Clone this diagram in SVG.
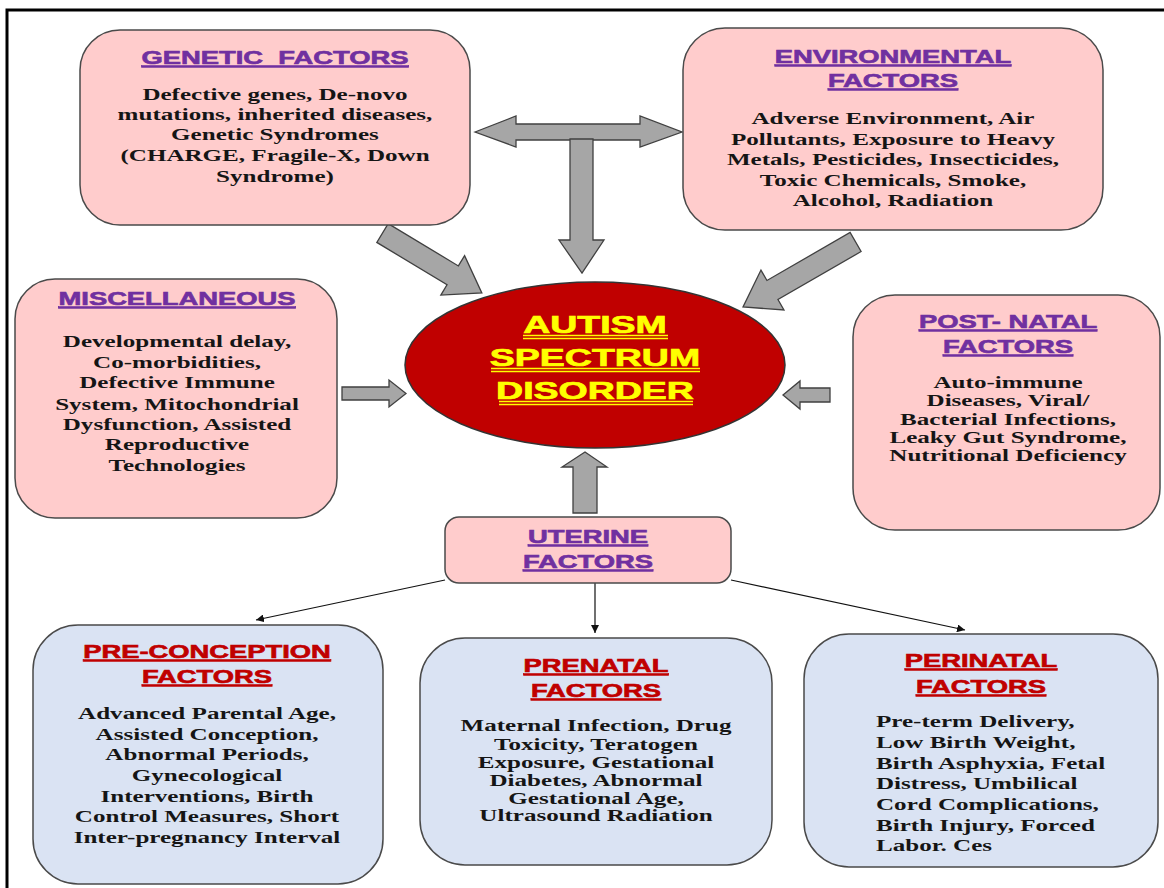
<svg xmlns="http://www.w3.org/2000/svg" width="1164" height="888" viewBox="0 0 1164 888">
<style>
.pink{fill:#FFCCCC;stroke:#4a4a4a;stroke-width:1.5}
.blue{fill:#DAE3F3;stroke:#4a4a4a;stroke-width:1.5}
.big{fill:#A6A6A6;stroke:#404040;stroke-width:1.3;stroke-linejoin:miter}
.thin{stroke:#111;stroke-width:1.2;fill:none}
.tp{font-family:"Liberation Sans",Arial,sans-serif;font-weight:bold;font-size:18px;fill:#7030A0;stroke:#7030A0;stroke-width:0.6;text-decoration:underline;text-anchor:middle}
.tr{font-family:"Liberation Sans",Arial,sans-serif;font-weight:bold;font-size:18px;fill:#C00000;stroke:#C00000;stroke-width:0.6;text-decoration:underline;text-anchor:middle}
.b{font-family:"Liberation Serif","Times New Roman",serif;font-weight:bold;font-size:16.5px;fill:#151515;text-anchor:middle}
.bl{font-family:"Liberation Serif","Times New Roman",serif;font-weight:bold;font-size:16.5px;fill:#151515;text-anchor:start}
.e{font-family:"Liberation Sans",Arial,sans-serif;font-weight:bold;font-size:24.5px;fill:#FFFF00;stroke:#FFFF00;stroke-width:0.7;text-anchor:middle}
</style>
<defs>
<marker id="ah" viewBox="0 0 10 10" refX="10" refY="5" markerWidth="8" markerHeight="8" markerUnits="userSpaceOnUse" orient="auto">
<path d="M0,0 L10,5 L0,10 z" fill="#111"/>
</marker>
</defs>
<rect width="1164" height="888" fill="#fff"/>
<path d="M7,888 V10 H1164" fill="none" stroke="#000" stroke-width="3"/>

<g id="connectors">
<polygon class="big" points="475,132 516,116 516,124 640,124 640,116 682,132 640,147 640,140 516,140 516,147"/>
<polygon class="big" points="570,139 593,139 593,240 604,240 582,273 559,240 570,240"/>
<polygon class="big" points="0,-11 82,-11 82,-23 116,0 82,23 82,11 0,11" transform="translate(382.5,233) rotate(31.1)"/>
<polygon class="big" points="0,-11 96,-11 96,-23 130,0 96,23 96,11 0,11" transform="translate(855.6,242) rotate(150)"/>
<polygon class="big" points="342,387 389,387 389,380 406,393.5 389,407 389,400 342,400"/>
<polygon class="big" points="830,388 800,388 800,381 783,395 800,409 800,402 830,402"/>
<polygon class="big" points="573,513 573,467 562,467 585,452 607,467 597,467 597,513"/>
<line class="thin" x1="445" y1="580" x2="256" y2="620" marker-end="url(#ah)"/>
<line class="thin" x1="595" y1="583" x2="595" y2="633" marker-end="url(#ah)"/>
<line class="thin" x1="731" y1="580" x2="965" y2="630" marker-end="url(#ah)"/>
</g>

<g id="genetic">
<rect class="pink" x="80" y="30" width="390" height="195" rx="40"/>
<g transform="translate(275,0) scale(1.52,1)">
<text class="tp" x="0" y="64" xml:space="preserve">GENETIC  FACTORS</text>
<text class="b" x="0" y="100">Defective genes, De-novo</text>
<text class="b" x="0" y="120">mutations, inherited diseases,</text>
<text class="b" x="0" y="140">Genetic Syndromes</text>
<text class="b" x="0" y="161">(CHARGE, Fragile-X, Down</text>
<text class="b" x="0" y="182">Syndrome)</text>
</g>
</g>

<g id="environmental">
<rect class="pink" x="683" y="28" width="420" height="202" rx="42"/>
<g transform="translate(893,0) scale(1.52,1)">
<text class="tp" x="0" y="63">ENVIRONMENTAL</text>
<text class="tp" x="0" y="87">FACTORS</text>
<text class="b" x="0" y="124">Adverse Environment, Air</text>
<text class="b" x="0" y="145">Pollutants, Exposure to Heavy</text>
<text class="b" x="0" y="165">Metals, Pesticides, Insecticides,</text>
<text class="b" x="0" y="186">Toxic Chemicals,  Smoke,</text>
<text class="b" x="0" y="206">Alcohol, Radiation</text>
</g>
</g>

<g id="miscellaneous">
<rect class="pink" x="15" y="279" width="322" height="239" rx="40"/>
<g transform="translate(177,0) scale(1.52,1)">
<text class="tp" x="0" y="305">MISCELLANEOUS</text>
<text class="b" x="0" y="347">Developmental delay,</text>
<text class="b" x="0" y="368">Co-morbidities,</text>
<text class="b" x="0" y="388">Defective Immune</text>
<text class="b" x="0" y="410">System, Mitochondrial</text>
<text class="b" x="0" y="430">Dysfunction, Assisted</text>
<text class="b" x="0" y="450">Reproductive</text>
<text class="b" x="0" y="471">Technologies</text>
</g>
</g>

<g id="postnatal">
<rect class="pink" x="853" y="295" width="307" height="235" rx="42"/>
<g transform="translate(1008,0) scale(1.52,1)">
<text class="tp" x="0" y="328">POST- NATAL</text>
<text class="tp" x="0" y="353">FACTORS</text>
<text class="b" x="0" y="388">Auto-immune</text>
<text class="b" x="0" y="406">Diseases, Viral/</text>
<text class="b" x="0" y="425">Bacterial Infections,</text>
<text class="b" x="0" y="443">Leaky Gut Syndrome,</text>
<text class="b" x="0" y="461">Nutritional Deficiency</text>
</g>
</g>

<g id="asd">
<ellipse cx="595" cy="365" rx="190" ry="83" fill="#C00000" stroke="#333" stroke-width="1.5"/>
<g transform="translate(595,0) scale(1.53,1)">
<text class="e" x="0" y="333">AUTISM</text>
<text class="e" x="0" y="366">SPECTRUM</text>
<text class="e" x="0" y="399">DISORDER</text>
</g>
<g stroke="#FFFF00" stroke-width="1.3">
<line x1="523" y1="335.5" x2="668" y2="335.5"/>
<line x1="523" y1="338.5" x2="668" y2="338.5"/>
<line x1="491" y1="368.5" x2="700" y2="368.5"/>
<line x1="491" y1="371.5" x2="700" y2="371.5"/>
<line x1="499" y1="401.5" x2="693" y2="401.5"/>
<line x1="499" y1="404.5" x2="693" y2="404.5"/>
</g>
</g>

<g id="uterine">
<rect class="pink" x="445" y="517" width="286" height="66" rx="14"/>
<g transform="translate(588,0) scale(1.52,1)">
<text class="tp" x="0" y="543">UTERINE</text>
<text class="tp" x="0" y="568">FACTORS</text>
</g>
</g>

<g id="preconception">
<rect class="blue" x="33" y="625" width="350" height="259" rx="45"/>
<g transform="translate(207,0) scale(1.52,1)">
<text class="tr" x="0" y="658">PRE-CONCEPTION</text>
<text class="tr" x="0" y="683">FACTORS</text>
<text class="b" x="0" y="719">Advanced Parental Age,</text>
<text class="b" x="0" y="740">Assisted Conception,</text>
<text class="b" x="0" y="760">Abnormal Periods,</text>
<text class="b" x="0" y="781">Gynecological</text>
<text class="b" x="0" y="802">Interventions, Birth</text>
<text class="b" x="0" y="822">Control Measures,  Short</text>
<text class="b" x="0" y="843">Inter-pregnancy Interval</text>
</g>
</g>

<g id="prenatal">
<rect class="blue" x="420" y="638" width="352" height="227" rx="45"/>
<g transform="translate(596,0) scale(1.52,1)">
<text class="tr" x="0" y="672">PRENATAL</text>
<text class="tr" x="0" y="697">FACTORS</text>
<text class="b" x="0" y="731">Maternal Infection, Drug</text>
<text class="b" x="0" y="750">Toxicity, Teratogen</text>
<text class="b" x="0" y="768">Exposure, Gestational</text>
<text class="b" x="0" y="786">Diabetes, Abnormal</text>
<text class="b" x="0" y="804">Gestational Age,</text>
<text class="b" x="0" y="821">Ultrasound Radiation</text>
</g>
</g>

<g id="perinatal">
<rect class="blue" x="804" y="634" width="354" height="233" rx="45"/>
<g transform="translate(981,0) scale(1.52,1)">
<text class="tr" x="0" y="667">PERINATAL</text>
<text class="tr" x="0" y="693">FACTORS</text>
</g>
<g transform="translate(876,0) scale(1.52,1)">
<text class="bl" x="0" y="727">Pre-term Delivery,</text>
<text class="bl" x="0" y="748">Low Birth Weight,</text>
<text class="bl" x="0" y="769">Birth Asphyxia,  Fetal</text>
<text class="bl" x="0" y="789">Distress,  Umbilical</text>
<text class="bl" x="0" y="810">Cord Complications,</text>
<text class="bl" x="0" y="831">Birth Injury,  Forced</text>
<text class="bl" x="0" y="851">Labor. Ces</text>
</g>
</g>
</svg>
